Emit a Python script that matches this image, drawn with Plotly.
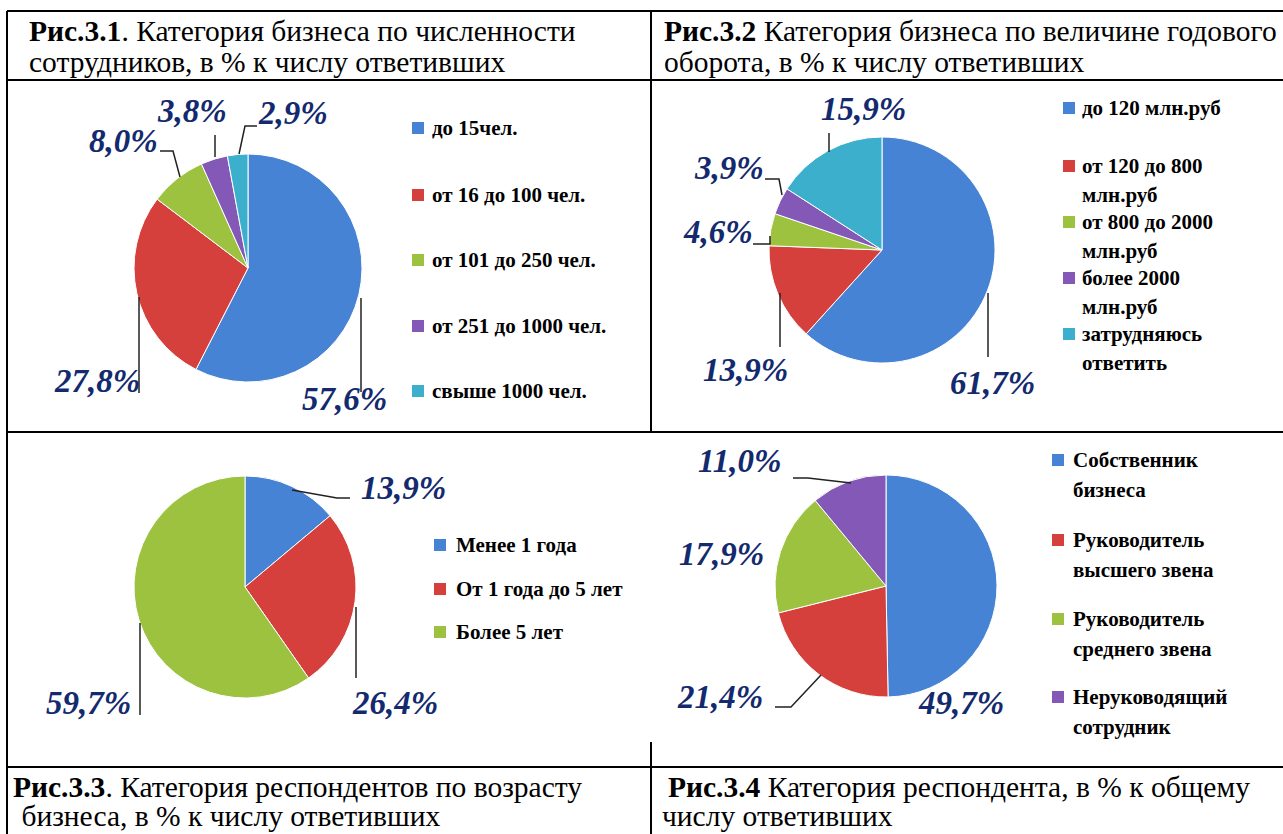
"""Four survey pie charts laid out as a bordered 2x2 table (Рис.3.1 - 3.4)."""

import plotly.graph_objects as go

# ---- data ---------------------------------------------------------------
emp_labels = ["до 15чел.", "от 16 до 100 чел.", "от 101 до 250 чел.",
              "от 251 до 1000 чел.", "свыше 1000 чел."]
emp_values = [57.6, 27.8, 8.0, 3.8, 2.9]

turnover_labels = ["до 120 млн.руб", "от 120 до 800<br>млн.руб",
                   "от 800 до 2000<br>млн.руб", "более 2000<br>млн.руб",
                   "затрудняюсь<br>ответить"]
turnover_values = [61.7, 13.9, 4.6, 3.9, 15.9]

age_labels = ["Менее 1 года", "От 1 года до 5 лет", "Более 5 лет"]
age_values = [13.9, 26.4, 59.7]

role_labels = ["Собственник<br>бизнеса", "Руководитель<br>высшего звена",
               "Руководитель<br>среднего звена", "Неруководящий<br>сотрудник"]
role_values = [49.7, 21.4, 17.9, 11.0]

titles = [
    ("<b>Рис.3.1</b>. Категория бизнеса по численности",
     "сотрудников, в % к числу ответивших"),
    ("<b>Рис.3.2</b> Категория бизнеса по величине годового",
     "оборота, в % к числу ответивших"),
    ("<b>Рис.3.3</b>. Категория респондентов по возрасту",
     " бизнеса, в % к числу ответивших"),
    ("<b>Рис.3.4</b> Категория респондента, в % к общему",
     "числу ответивших"),
]

colors = ["#4783d4", "#d6403c", "#9cc23f", "#8358b6", "#3bafcc"]

# ---- layout helpers (pixel -> paper) ------------------------------------
W, H = 1283, 834
SERIF = "Liberation Serif"
NAVY = "#132a6e"


def px(x):
    return x / W


def py(y):
    return 1 - y / H


panels = [
    dict(labels=emp_labels, values=emp_values, center=(248, 268), r=114,
         leg=dict(mx=418, tx=430, ys=[128, 195, 260, 326, 391], gap=29),
         text_pos=[(345, 399), (97, 381), (123, 141), (192, 111), (293, 113)],
         leaders=[[(361, 298), (361, 392)],
                  [(139, 297), (139, 393)],
                  [(160, 151), (173, 151), (180, 177)],
                  [(215, 135), (215, 157)],
                  [(257, 126), (245, 126), (239, 154)]]),
    dict(labels=turnover_labels, values=turnover_values, center=(882, 250), r=113,
         leg=dict(mx=1069, tx=1080, ys=[108, 166, 222, 278, 334], gap=29),
         text_pos=[(992, 383), (745, 370), (718, 232), (729, 168), (863, 109)],
         leaders=[[(988, 293), (988, 357)],
                  [(780, 293), (780, 347)],
                  [(753, 244), (770, 244), (770, 236)],
                  [(765, 179), (779, 179), (782, 195)],
                  [(829, 133), (829, 152)]]),
    dict(labels=age_labels, values=age_values, center=(245, 587), r=111,
         leg=dict(mx=440, tx=454, ys=[545, 589, 632], gap=29),
         text_pos=[(403, 488), (395, 703), (88, 703)],
         leaders=[[(292, 490), (337, 498), (350, 498)],
                  [(356, 607), (356, 678)],
                  [(140, 623), (140, 715)]]),
    dict(labels=role_labels, values=role_values, center=(886, 586), r=111,
         leg=dict(mx=1058, tx=1071, ys=[460, 540, 619, 697], gap=30),
         text_pos=[(961, 703), (720, 697), (721, 554), (739, 461)],
         leaders=[[],
                  [(775, 707), (791, 707), (821, 675)],
                  [],
                  [(793, 478), (808, 478), (851, 483)]]),
]

fig = go.Figure()
shapes = []
annotations = []

for p in panels:
    cx, cy = p["center"]
    r = p["r"]
    n = len(p["values"])
    fig.add_trace(go.Pie(
        labels=[lab.replace("<br>", " ") for lab in p["labels"]],
        values=p["values"],
        sort=False,
        direction="clockwise",
        rotation=0,
        textinfo="none",
        showlegend=False,
        marker=dict(colors=colors[:n], line=dict(color="white", width=1)),
        domain=dict(x=[px(cx - r), px(cx + r)], y=[py(cy + r), py(cy - r)]),
    ))

    # percentage labels
    for v, (tx, ty) in zip(p["values"], p["text_pos"]):
        annotations.append(dict(
            x=px(tx), y=py(ty), xref="paper", yref="paper",
            text=f"<b><i>{v:.1f}%</i></b>".replace(".", ","),
            showarrow=False, xanchor="center", yanchor="middle",
            font=dict(family=SERIF, size=33, color=NAVY),
        ))

    # leader lines
    for pts in p["leaders"]:
        if not pts:
            continue
        path = "M " + " L ".join(f"{px(x)} {py(y)}" for x, y in pts)
        shapes.append(dict(type="path", xref="paper", yref="paper", path=path,
                           line=dict(color="#222222", width=1.5)))

    # legend drawn by hand to match the original spacing
    leg = p["leg"]
    s = 6
    for i, (lab, y0) in enumerate(zip(p["labels"], leg["ys"])):
        shapes.append(dict(type="rect", xref="paper", yref="paper",
                           x0=px(leg["mx"] - s), x1=px(leg["mx"] + s),
                           y0=py(y0 + s), y1=py(y0 - s),
                           fillcolor=colors[i], line=dict(width=0)))
        for k, line in enumerate(lab.split("<br>")):
            annotations.append(dict(
                x=px(leg["tx"]), y=py(y0 + k * leg["gap"]),
                xref="paper", yref="paper",
                text=f"<b>{line}</b>", showarrow=False,
                xanchor="left", yanchor="middle",
                font=dict(family=SERIF, size=21, color="black"),
            ))

# ---- titles -------------------------------------------------------------
title_pos = [((27, 31), (27, 62)), ((662, 31), (662, 62)),
             ((11, 787), (12, 816)), ((666, 787), (660, 816))]
for (l1, l2), ((x1, y1), (x2, y2)) in zip(titles, title_pos):
    for txt, x, y in ((l1, x1, y1), (l2, x2, y2)):
        annotations.append(dict(
            x=px(x), y=py(y), xref="paper", yref="paper", text=txt,
            showarrow=False, xanchor="left", yanchor="middle",
            font=dict(family=SERIF, size=29.5, color="black"),
        ))

# ---- table borders ------------------------------------------------------
grid = [((7, 11), (W, 11)), ((7, 80), (W, 80)), ((7, 432), (W, 432)),
        ((7, 767), (W, 767)), ((7, 11), (7, H)), ((651, 11), (651, 432)),
        ((651, 742), (651, H))]
for (x0, y0), (x1, y1) in grid:
    shapes.append(dict(type="line", xref="paper", yref="paper",
                       x0=px(x0), y0=py(y0), x1=px(x1), y1=py(y1),
                       line=dict(color="black", width=2)))

fig.update_layout(
    width=W, height=H, autosize=False,
    margin=dict(l=0, r=0, t=0, b=0),
    paper_bgcolor="white", plot_bgcolor="white",
    shapes=shapes, annotations=annotations,
)

# the page body has a default 8px margin; drop it so the figure sits at 0,0
fig.write_html("out.html", config={"displayModeBar": False},
               post_script="document.body.style.margin = '0';")
